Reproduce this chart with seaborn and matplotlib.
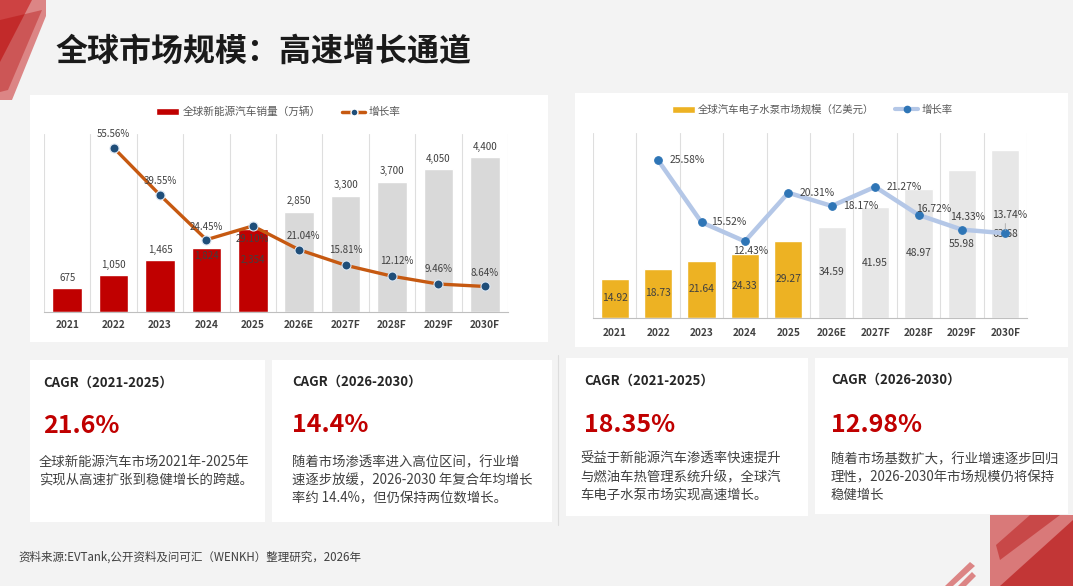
import numpy as np
import seaborn as sns
import matplotlib.pyplot as plt
from matplotlib.patches import Rectangle, Polygon, Patch
from matplotlib.lines import Line2D

# ---- data ----
years = ['2021', '2022', '2023', '2024', '2025', '2026E', '2027F', '2028F', '2029F', '2030F']
ev_sales = [675, 1050, 1465, 1824, 2354, 2850, 3300, 3700, 4050, 4400]
ev_growth = [55.56, 39.55, 24.45, 29.10, 21.04, 15.81, 12.12, 9.46, 8.64]
pump_size = [14.92, 18.73, 21.64, 24.33, 29.27, 34.59, 41.95, 48.97, 55.98, 63.68]
pump_growth = [25.58, 15.52, 12.43, 20.31, 18.17, 21.27, 16.72, 14.33, 13.74]
n_actual = 5

title = '全球市场规模：高速增长通道'
ev_legend = ['全球新能源汽车销量（万辆）', '增长率']
pump_legend = ['全球汽车电子水泵市场规模（亿美元）', '增长率']
cagr_heads = ['CAGR（2021-2025）', 'CAGR（2026-2030）', 'CAGR（2021-2025）', 'CAGR（2026-2030）']
cagr_values = ['21.6%', '14.4%', '18.35%', '12.98%']
cagr_notes = [
    ['全球新能源汽车市场2021年-2025年', '实现从高速扩张到稳健增长的跨越。'],
    ['随着市场渗透率进入高位区间，行业增', '速逐步放缓，2026-2030 年复合年均增长', '率约 14.4%，但仍保持两位数增长。'],
    ['受益于新能源汽车渗透率快速提升', '与燃油车热管理系统升级，全球汽', '车电子水泵市场实现高速增长。'],
    ['随着市场基数扩大，行业增速逐步回归', '理性，2026-2030年市场规模仍将保持', '稳健增长'],
]
source = '资料来源:EVTank,公开资料及问可汇（WENKH）整理研究，2026年'

sns.set_style('white')
plt.rcParams['font.family'] = ['Noto Sans CJK SC', 'DejaVu Sans']
plt.rcParams['axes.unicode_minus'] = False

W, H = 1073, 586
fig = plt.figure(figsize=(W / 100, H / 100), dpi=100, facecolor='#F3F3F3')


def fx(x):
    return x / W


def fy(y):
    return 1 - y / H


def box(x0, y0, x1, y1, color='white'):
    fig.patches.append(Rectangle((fx(x0), fy(y1)), (x1 - x0) / W, (y1 - y0) / H,
                                 transform=fig.transFigure, facecolor=color,
                                 edgecolor='none', zorder=-2))


def poly(pts, color='#C00000', alpha=0.6):
    fig.patches.append(Polygon([(fx(x), fy(y)) for x, y in pts], closed=True,
                               transform=fig.transFigure, facecolor=color,
                               edgecolor='none', alpha=alpha, zorder=-1))


def px_axes(x0, y0, x1, y1):
    return fig.add_axes([fx(x0), fy(y1), (x1 - x0) / W, (y1 - y0) / H])


def style_axes(ax, pad):
    ax.set_facecolor('none')
    ax.set_xlim(-0.5, len(years) - 0.5)
    ax.set_yticks([])
    ax.set_xlabel('')
    ax.set_ylabel('')
    for s in ['left', 'right', 'top']:
        ax.spines[s].set_visible(False)
    ax.spines['bottom'].set_color('#BFBFBF')
    ax.set_xticks(np.arange(-0.5, len(years), 1), minor=True)
    ax.grid(which='minor', axis='x', color='#DEDEDE', lw=0.8)
    ax.set_axisbelow(True)
    ax.tick_params(axis='x', which='both', length=0, pad=pad)
    for t in ax.get_xticklabels():
        t.set_fontsize(7.3)
        t.set_fontweight('bold')
        t.set_color('#404040')


# ---- background decoration ----
poly([(0, 0), (46, 0), (46, 16), (12, 100), (0, 100)], alpha=0.45)
poly([(0, 0), (32, 0), (0, 62)], alpha=0.5)
poly([(0, 20), (42, 10), (8, 90), (0, 92)], color='#B00000', alpha=0.35)
box(30, 95, 548, 342)
box(575, 93, 1068, 347)
box(30, 360, 265, 522)
box(272, 360, 552, 522)
box(566, 358, 808, 516)
box(815, 358, 1068, 514)
poly([(990, 515), (1073, 515), (1073, 586), (990, 586)], alpha=0.5)
poly([(1000, 586), (1073, 520), (1073, 586)], color='#B00000', alpha=0.55)
poly([(996, 545), (1030, 515), (1060, 515), (1000, 560)], color='#B00000', alpha=0.4)
poly([(945, 586), (970, 562), (975, 566), (953, 586)], alpha=0.45)
poly([(958, 586), (972, 572), (976, 576), (966, 586)], alpha=0.45)
fig.lines.append(Line2D([fx(558), fx(558)], [fy(355), fy(525)], transform=fig.transFigure,
                        color='#DDDDDD', lw=0.8, zorder=-1))

fig.text(fx(55), fy(52), title, fontsize=23, fontweight='bold', color='#1A1A1A',
         ha='left', va='center')

# ---- left chart: EV sales ----
ev_colors = ['#C00000'] * n_actual + ['#D9D9D9'] * (len(years) - n_actual)
ax1 = px_axes(44, 134, 508, 312)
sns.barplot(x=years, y=ev_sales, hue=years, palette=ev_colors, legend=False,
            width=0.64, saturation=1, ax=ax1)
ax1.set_ylim(0, 5050)
style_axes(ax1, pad=6)
inside = {3: -6, 4: -22}
for i, v in enumerate(ev_sales):
    ax1.annotate(f'{v:,}', (i, v), xytext=(0, inside.get(i, 7.5)), textcoords='offset points',
                 ha='center', va='center', fontsize=7, color='#404040')

ax1b = ax1.twinx()
x_line = np.arange(1, len(years))
sns.lineplot(x=x_line, y=ev_growth, ax=ax1b, color='#C65911', lw=2.4, marker='o',
             markersize=6.5, markerfacecolor='#1F4E79', markeredgecolor='#DCE6F2',
             markeredgewidth=0.8)
ax1b.set_ylim(0, 60.2)
ax1b.axis('off')
ev_lab_off = [(0, 10), (0, 10), (0, 9), (0, -9.5), (3, 10), (0, 11), (3.5, 11), (0, 11), (0, 9.5)]
for x, g, (dx, dy) in zip(x_line, ev_growth, ev_lab_off):
    ax1b.annotate(f'{g:.2f}%', (x, g), xytext=(dx, dy), textcoords='offset points',
                  ha='center', va='center', fontsize=7, color='#404040')
ax1.set_xlim(-0.5, len(years) - 0.5)

fig.legend([Patch(facecolor='#C00000'),
            Line2D([], [], color='#C65911', lw=2.5, marker='o', markersize=5,
                   markerfacecolor='#1F4E79', markeredgecolor='white')],
           ev_legend, loc='center', bbox_to_anchor=(fx(278), fy(112)), ncol=2,
           frameon=False, fontsize=7.7, handlelength=2.2, handleheight=0.7,
           columnspacing=2.0, handletextpad=0.3, labelcolor='#595959')

# ---- right chart: electronic water pump market ----
pump_colors = ['#EDB223'] * n_actual + ['#E7E7E7'] * (len(years) - n_actual)
ax2 = px_axes(593, 133, 1027, 318)
sns.barplot(x=years, y=pump_size, hue=years, palette=pump_colors, legend=False,
            width=0.65, saturation=1, ax=ax2)
ax2.set_ylim(0, 70.1)
style_axes(ax2, pad=7.5)
for i, v in enumerate(pump_size):
    ax2.text(i, v / 2, f'{v:.2f}', ha='center', va='center', fontsize=7.4, color='#404040')

ax2b = ax2.twinx()
sns.lineplot(x=x_line, y=pump_growth, ax=ax2b, color='#B4C7E7', lw=3.2, marker='o',
             markersize=5.5, markerfacecolor='#2E75B6', markeredgecolor='#2E75B6')
ax2b.set_ylim(0, 30)
ax2b.axis('off')
pump_lab_off = [(8, 0, 'left'), (7, 0, 'left'), (4, -7, 'center'), (8, 0, 'left'),
                (8, 0, 'left'), (8, 0, 'left'), (11, 4, 'center'), (4, 9, 'center'),
                (3, 13.5, 'center')]
for x, g, (dx, dy, ha) in zip(x_line, pump_growth, pump_lab_off):
    ax2b.annotate(f'{g:.2f}%', (x, g), xytext=(dx, dy), textcoords='offset points',
                  ha=ha, va='center', fontsize=7.4, color='#404040')
ax2b.annotate('', (x_line[-1], pump_growth[-1]), xytext=(0, 9), textcoords='offset points',
              arrowprops=dict(arrowstyle='-', color='#A6A6A6', lw=0.6))
ax2.set_xlim(-0.5, len(years) - 0.5)

fig.legend([Patch(facecolor='#EDB223'),
            Line2D([], [], color='#B4C7E7', lw=3, marker='o', markersize=4.5,
                   markerfacecolor='#2E75B6', markeredgecolor='#2E75B6')],
           pump_legend, loc='center', bbox_to_anchor=(fx(812), fy(110)), ncol=2,
           frameon=False, fontsize=7.5, handlelength=2.2, handleheight=0.7,
           columnspacing=2.0, handletextpad=0.3, labelcolor='#595959')

# ---- CAGR text blocks ----
col_x = [43, 292, 584, 831]
note_x = [39, 292, 580, 831]
head_y = [383, 382, 381, 380]
val_y = [426, 425, 425, 425]
note_y = [462, 462, 459, 459]
for k in range(4):
    fig.text(fx(col_x[k]), fy(head_y[k]), cagr_heads[k], fontsize=9.5, fontweight='bold',
             color='#262626', ha='left', va='center')
    fig.text(fx(col_x[k]), fy(val_y[k]), cagr_values[k], fontsize=18, fontweight='bold',
             color='#C00000', ha='left', va='center')
    for j, line in enumerate(cagr_notes[k]):
        fig.text(fx(note_x[k]), fy(note_y[k] + 18 * j), line, fontsize=9.6,
                 color='#404040', ha='left', va='center')

fig.text(fx(18), fy(557), source, fontsize=8.3, style='italic', color='#404040',
         ha='left', va='center')

fig.savefig('out.png', dpi=100, facecolor=fig.get_facecolor())
